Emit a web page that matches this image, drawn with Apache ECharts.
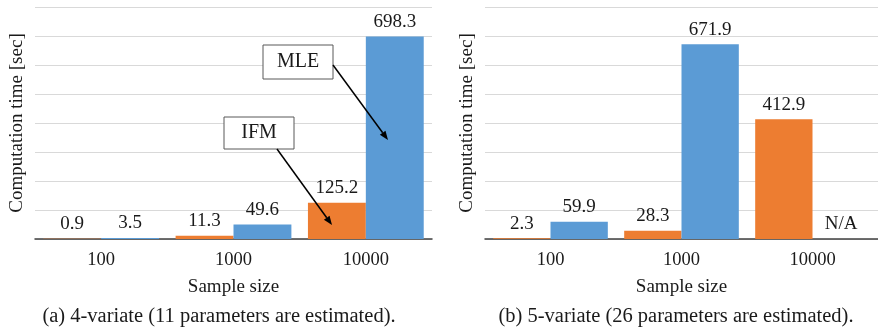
<!DOCTYPE html>
<html><head><meta charset="utf-8">
<script src="https://cdn.jsdelivr.net/npm/echarts@6/dist/echarts.min.js"></script>
<style>html,body{margin:0;padding:0;background:#fff}#c{width:878px;height:331px}</style>
</head><body><div id="c"></div>
<script>
const categories = ['100', '1000', '10000'];
const ifm4 = [0.9, 11.3, 125.2];
const mle4 = [3.5, 49.6, 698.3];
const ifm5 = [2.3, 28.3, 412.9];
const mle5 = [59.9, 671.9, null];
const captionA = '(a) 4-variate (11 parameters are estimated).';
const captionB = '(b) 5-variate (26 parameters are estimated).';
const yTitle = 'Computation time [sec]';
const xTitle = 'Sample size';

const FONT = '"Liberation Serif", "Times New Roman", serif';
const ORANGE = '#ED7D31', BLUE = '#5B9BD5';
const TXT = '#1a1a1a';
const chart = echarts.init(document.getElementById('c'), null, {renderer: 'canvas'});

function xAxis(i) {
  return {
    type: 'category', gridIndex: i, data: categories,
    axisLine: {lineStyle: {color: '#404040', width: 1.5}},
    axisTick: {show: false},
    axisLabel: {fontFamily: FONT, fontSize: 18.5, color: TXT, margin: 12},
    name: xTitle, nameLocation: 'middle', nameGap: 39,
    nameTextStyle: {fontFamily: FONT, fontSize: 19, color: TXT}
  };
}
function yAxis(i) {
  return {
    type: 'value', gridIndex: i, min: 0, max: 800, interval: 100,
    axisLabel: {show: false}, axisTick: {show: false}, axisLine: {show: false},
    splitLine: {lineStyle: {color: '#D9D9D9', width: 1}},
    name: yTitle, nameLocation: 'middle', nameGap: 8, nameRotate: 90,
    nameTextStyle: {fontFamily: FONT, fontSize: 19, color: TXT}
  };
}
const lbl = {show: true, position: 'top', distance: 5, fontFamily: FONT, fontSize: 19, color: TXT};
function bar(name, data, color, idx) {
  return {
    type: 'bar', name, xAxisIndex: idx, yAxisIndex: idx,
    data: data.map(v => v === null ? {value: 0, label: {formatter: 'N/A'}} : v),
    itemStyle: {color}, label: lbl, barGap: '0%', barCategoryGap: '12.5%'
  };
}

function arrow(x1, y1, x2, y2) {
  const ang = Math.atan2(y2 - y1, x2 - x1), L = 9, W = 3.5;
  const bx = x2 - L * Math.cos(ang), by = y2 - L * Math.sin(ang);
  const px = -Math.sin(ang) * W, py = Math.cos(ang) * W;
  return [
    {type: 'line', shape: {x1, y1, x2: bx, y2: by}, style: {stroke: '#000', lineWidth: 1.5}, z: 100},
    {type: 'polygon', shape: {points: [[x2, y2], [bx + px, by + py], [bx - px, by - py]]}, style: {fill: '#000'}, z: 100}
  ];
}
function box(x, y, w, h, text) {
  return [
    {type: 'rect', shape: {x, y, width: w, height: h}, style: {fill: '#fff', stroke: '#595959', lineWidth: 1}, z: 100},
    {type: 'text', x: x + w / 2, y: y + h / 2, style: {text, fontFamily: FONT, fontSize: 20, fill: TXT, align: 'center', verticalAlign: 'middle'}, z: 101}
  ];
}

chart.setOption({
  animation: false,
  title: [
    {text: captionA, left: 214, top: 301, textAlign: 'center', textStyle: {fontFamily: FONT, fontSize: 20.5, fontWeight: 'normal', color: TXT}},
    {text: captionB, left: 671, top: 301, textAlign: 'center', textStyle: {fontFamily: FONT, fontSize: 20.5, fontWeight: 'normal', color: TXT}}
  ],
  grid: [
    {left: 35, right: 446, top: 7, bottom: 92},
    {left: 485, right: 0, top: 7, bottom: 92}
  ],
  xAxis: [xAxis(0), xAxis(1)],
  yAxis: [yAxis(0), yAxis(1)],
  series: [
    bar('IFM', ifm4, ORANGE, 0), bar('MLE', mle4, BLUE, 0),
    bar('IFM', ifm5, ORANGE, 1), bar('MLE', mle5, BLUE, 1)
  ],
  graphic: [].concat(
    box(263, 45, 70, 34, 'MLE'), arrow(333, 65, 388, 140),
    box(224, 117, 70, 32, 'IFM'), arrow(277, 149, 332, 225)
  )
});
</script></body></html>
